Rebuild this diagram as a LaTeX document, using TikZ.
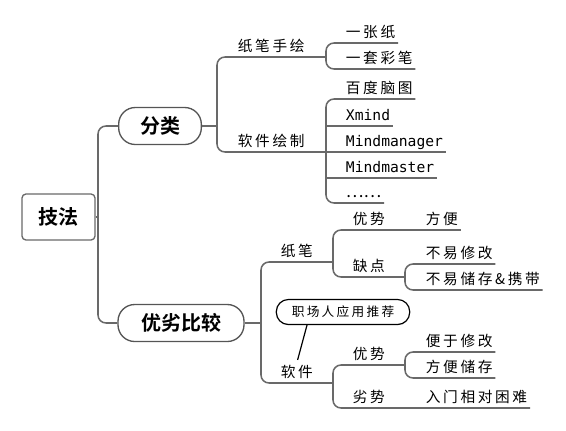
\documentclass[tikz,border=0pt]{standalone}
\usepackage{fontspec}
\usepackage{tikz}
\usetikzlibrary{positioning}
\newfontfamily\cjk[LetterSpace=18]{Noto Sans CJK SC}
\newfontfamily\cjkplain{Noto Sans CJK SC}
\newfontfamily\cjknote[LetterSpace=18]{Noto Sans CJK SC}
\newfontfamily\cjkbf{Noto Sans CJK SC Bold}
\newfontfamily\monotxt{DejaVu Sans Mono}
\definecolor{linegray}{RGB}{105,105,105}
\definecolor{boxgray}{RGB}{85,85,85}

\begin{document}
\begin{tikzpicture}[x=0.75pt,y=-0.75pt,
    conn/.style={draw=linegray,line width=1.15pt,rounded corners=6pt},
    topic/.style={draw=boxgray,line width=1pt,rounded corners=12.5pt,minimum height=27.75pt,
      font=\cjkbf\fontsize{15}{18}\selectfont},
    lbl/.style={anchor=south west,inner xsep=2pt,inner ysep=2pt,text height=9pt,text depth=2pt,
      font=\cjk\fontsize{11}{12}\selectfont},
    mono/.style={lbl,font=\monotxt\fontsize{11}{12}\selectfont}]
  \useasboundingbox (0,0) rectangle (566,430);

  % central and main topics
  \node[draw=linegray,line width=1pt,rounded corners=3pt,minimum width=54.75pt,minimum height=34.5pt,
    font=\cjkbf\fontsize{15}{18}\selectfont] (jifa) at (58.5,217) {技法};
  \node[topic,minimum width=62pt] (fenlei) at (160,126) {分类};
  \node[topic,minimum width=94.5pt] (youlie) at (181,323) {优劣比较};

  \coordinate (trunk) at (98,217);
  \coordinate (f1) at (217,126);
  \coordinate (f2) at (326,57);
  \coordinate (f3) at (326,152);
  \coordinate (f4) at (261,323);
  \coordinate (f5) at (333,262);
  \coordinate (f6) at (405,277);
  \coordinate (f7) at (333,383);
  \coordinate (f8) at (405,365);

  % branch labels
  \node[lbl] (shouhui) at (235,57)  {纸笔手绘};
  \node[lbl] (huizhi)  at (235,152) {软件绘制};
  \node[lbl] (yizhang) at (343,43)  {一张纸};
  \node[lbl] (yitao)   at (343,69)  {一套彩笔};
  \node[lbl] (baidu)   at (343,99)  {百度脑图};
  \node[mono] (xmind)  at (343,126) {Xmind};
  \node[mono] (mgr)    at (343,152) {Mindmanager};
  \node[mono] (mst)    at (343,178) {Mindmaster};
  \node[lbl,font=\cjkplain\fontsize{12.5}{13}\selectfont] (dots) at (343,203) {……};

  \node[lbl] (zhibi)    at (278,262) {纸笔};
  \node[lbl] (ruanjian) at (278,383) {软件};
  \node[lbl] (youshi)   at (350,230) {优势};
  \node[lbl] (fangbian) at (423,230) {方便};
  \node[lbl] (quedian)  at (350,277) {缺点};
  \node[lbl] (buyi1)    at (423,264) {不易修改};
  \node[lbl] (buyi2)    at (423,290) {不易储存\&携带};
  \node[lbl] (youshi2)  at (350,365) {优势};
  \node[lbl] (bianyu)   at (423,352) {便于修改};
  \node[lbl] (fangbian2) at (423,378) {方便储存};
  \node[lbl] (lieshi)   at (350,408) {劣势};
  \node[lbl] (rumen)    at (423,408) {入门相对困难};

  \node[draw=black,line width=0.9pt,rounded corners=9pt,minimum width=100pt,minimum height=18.75pt,
    font=\cjknote\fontsize{9.5}{11}\selectfont] (tuijian) at (343,312) {职场人应用推荐};

  % connectors
  \draw[conn] (jifa.east) -- (trunk);
  \draw[conn] (fenlei.west) -| (trunk) |- (youlie.west);

  \draw[conn] (fenlei.east) -- (f1);
  \draw[conn] (f2) -- (shouhui.south -| f1) -- (huizhi.south -| f1) -- (f3);
  \draw[conn] (yizhang.south east) -- (yizhang.south -| f2) -- (yitao.south -| f2) -- (yitao.south east);
  \draw[conn] (baidu.south east) -- (baidu.south -| f3) -- (dots.south -| f3) -- (dots.south east);
  \foreach \n in {xmind,mgr,mst}
    \draw[conn] (\n.south -| f3) -- (\n.south east);

  \draw[conn] (youlie.east) -- (f4);
  \draw[conn] (f5) -- (zhibi.south -| f4) -- (ruanjian.south -| f4) -- (f7);
  \draw[conn] (f6) -- (quedian.south -| f5) -- (youshi.south -| f5) -- (fangbian.south east);
  \draw[conn] (buyi1.south east) -- (buyi1.south -| f6) -- (buyi2.south -| f6) -- (buyi2.south east);
  \draw[conn] (f8) -- (youshi2.south -| f7) -- (lieshi.south -| f7) -- (rumen.south east);
  \draw[conn] (bianyu.south east) -- (bianyu.south -| f8) -- (fangbian2.south -| f8) -- (fangbian2.south east);

  \draw[line width=0.9pt,shorten >=2pt] ([xshift=-27pt]tuijian.south) -- (ruanjian.north);
\end{tikzpicture}
\end{document}
